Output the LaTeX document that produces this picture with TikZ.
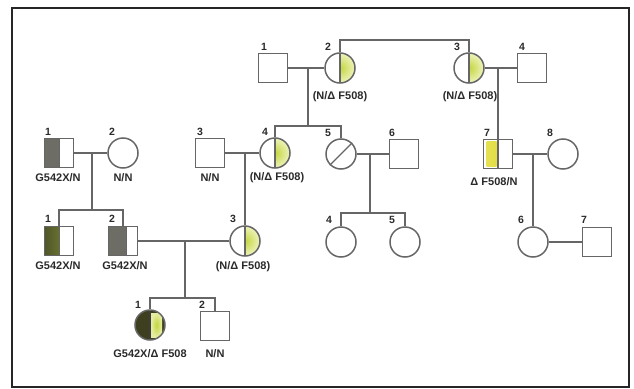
\documentclass[tikz,border=0pt]{standalone}
\usepackage{fontspec}
\setmainfont{Liberation Sans}
\begin{document}
\begin{tikzpicture}[x=1pt,y=-1pt]
\definecolor{linec}{HTML}{666666}
\definecolor{txtc}{HTML}{2A2A2A}
\definecolor{graf}{HTML}{6D6D66}
\definecolor{olive}{HTML}{50562A}
\definecolor{darkol}{HTML}{3E3F1F}
\definecolor{cfgreen}{HTML}{C4D640}
\definecolor{cflight}{HTML}{EEF3BC}
\definecolor{cfyel}{HTML}{E0DA2C}
\tikzset{
  ln/.style={draw=linec, line width=1.3pt},
  sq/.style={draw=linec, line width=1.5pt, rectangle, minimum size=29pt, inner sep=0pt, fill=white},
  ci/.style={draw=linec, line width=1.5pt, circle, minimum size=30pt, inner sep=0pt, fill=white},
  carR/.style={path picture={
      \shade[inner color=cfgreen, outer color=cflight]
        ([xshift=1pt]path picture bounding box.north) rectangle (path picture bounding box.south east);
      \draw[linec, line width=1.4pt] (path picture bounding box.north) -- (path picture bounding box.south);}},
  halfL/.style={path picture={
      \fill[#1] (path picture bounding box.north west) rectangle (path picture bounding box.south);
      \draw[linec, line width=1pt] (path picture bounding box.north) -- (path picture bounding box.south);}},
  graySq/.style={path picture={
      \fill[graf] (path picture bounding box.north west) rectangle ([xshift=3pt]path picture bounding box.south);
      \draw[linec, line width=1pt] ([xshift=3pt]path picture bounding box.north) -- ([xshift=3pt]path picture bounding box.south);}},
  olSq/.style={path picture={
      \shade[left color=olive, right color=olive!60!cfgreen] (path picture bounding box.north west) rectangle (path picture bounding box.south);
      \draw[linec, line width=1pt] (path picture bounding box.north) -- (path picture bounding box.south);}},
  yelSq/.style={path picture={
      \shade[left color=cfyel!80!white, right color=cfyel] ([xshift=3pt,yshift=-2pt]path picture bounding box.north west) rectangle ([xshift=-1.5pt,yshift=2pt]path picture bounding box.south);
      \draw[linec, line width=1.4pt] (path picture bounding box.north) -- (path picture bounding box.south);}},
  affCarr/.style={path picture={
      \fill[darkol] (path picture bounding box.north west) rectangle (path picture bounding box.south east);
      \shade[inner color=cfgreen, outer color=cflight!80!cfgreen]
        ([xshift=1pt,yshift=-3pt]path picture bounding box.north) rectangle ([xshift=-3pt,yshift=3pt]path picture bounding box.south east);
      \draw[linec!60!black, line width=1.4pt] (path picture bounding box.north) -- (path picture bounding box.south);}},
  num/.style={text=txtc, font=\bfseries\fontsize{10.5}{11}\selectfont, inner sep=0pt},
  gt/.style={text=txtc, font=\bfseries\fontsize{11}{12}\selectfont, inner sep=0pt},
  frame/.style={draw=black!85, line width=2pt}
}
\useasboundingbox (0,0) rectangle (634,388);
\draw[frame] (12,8) rectangle (629,387);

% Generation I
\node[sq] (I1) at (273,68) {};
\node[ci, carR] (I2) at (340,68) {};
\node[ci, carR] (I3) at (469,68) {};
\node[sq] (I4) at (532,68) {};

% Generation II
\node[sq, halfL=graf] (L1) at (59,153) {};
\node[ci] (L2) at (123,153) {};
\node[sq] (A3) at (210,153) {};
\node[ci, carR] (A4) at (275,153) {};
\node[ci] (A5) at (341,154) {};
\node[sq] (A6) at (404,154) {};
\node[sq, yelSq] (A7) at (498,154) {};
\node[ci] (A8) at (563,154) {};
\draw[linec, line width=1.2pt] (A5.south west) -- (A5.north east);

% Generation III
\node[sq, olSq] (B1) at (59,241) {};
\node[sq, graySq] (B2) at (123,241) {};
\node[ci, carR] (B3) at (245,241) {};
\node[ci] (B4) at (341,242) {};
\node[ci] (B5) at (405,242) {};
\node[ci] (B6) at (533,242) {};
\node[sq] (B7) at (597,242) {};

% Generation IV
\node[ci, affCarr] (C1) at (150,325) {};
\node[sq] (C2) at (215,326) {};

% connectors
\coordinate (top) at (405,40);
\draw[ln] (I2.north) |- (top) -| (I3.north);
\coordinate (m1) at (308,68);
\coordinate (s1) at (308,126);
\draw[ln] (I1.east) -- (I2.west);
\draw[ln] (m1) -- (s1);
\draw[ln] (A4.north) |- (s1) -| (A5.north);
\coordinate (m2) at (498,68);
\draw[ln] (I3.east) -- (I4.west);
\draw[ln] (m2) -- (A7.north);

\coordinate (m3) at (92,153);
\coordinate (s3) at (92,210);
\draw[ln] (L1.east) -- (L2.west);
\draw[ln] (m3) -- (s3);
\draw[ln] (B1.north) |- (s3) -| (B2.north);

\coordinate (m4) at (245,153);
\draw[ln] (A3.east) -- (A4.west);
\draw[ln] (m4) -- (B3.north);

\coordinate (m5) at (370,154);
\coordinate (s5) at (370,213);
\draw[ln] (A5.east) -- (A6.west);
\draw[ln] (m5) -- (s5);
\draw[ln] (B4.north) |- (s5) -| (B5.north);

\coordinate (m6) at (533,154);
\draw[ln] (A7.east) -- (A8.west);
\draw[ln] (m6) -- (B6.north);

\coordinate (m7) at (185,241);
\coordinate (s7) at (185,298);
\draw[ln] (B2.east) -- (B3.west);
\draw[ln] (m7) -- (s7);
\draw[ln] (C1.north) |- (s7) -| (C2.north);

\draw[ln] (B6.east) -- (B7.west);

% numbers
\node[num] (nI1) at (264,47) {1};
\node[num] (nI2) at (328,47) {2};
\node[num] (nI3) at (457,47) {3};
\node[num] (nI4) at (522,47) {4};
\node[num] (nL1) at (48,132) {1};
\node[num] (nL2) at (112,132) {2};
\node[num] (nA3) at (200,132) {3};
\node[num] (nA4) at (265,132) {4};
\node[num] (nA5) at (328,133) {5};
\node[num] (nA6) at (392,133) {6};
\node[num] (nA7) at (487,133) {7};
\node[num] (nA8) at (550,133) {8};
\node[num] (nB1) at (48,219) {1};
\node[num] (nB2) at (112,219) {2};
\node[num] (nB3) at (233,219) {3};
\node[num] (nB4) at (329,220) {4};
\node[num] (nB5) at (392,220) {5};
\node[num] (nB6) at (521,220) {6};
\node[num] (nB7) at (584,220) {7};
\node[num] (nC1) at (138,305) {1};
\node[num] (nC2) at (202,305) {2};

% genotypes
\node[gt] (gI2) at (340,97) {(N/Δ F508)};
\node[gt] (gI3) at (470,97) {(N/Δ F508)};
\node[gt] (gL1) at (58,178) {G542X/N};
\node[gt] (gL2) at (123,178) {N/N};
\node[gt] (gA3) at (210,178) {N/N};
\node[gt] (gA4) at (277,178) {(N/Δ F508)};
\node[gt] (gA7) at (494,182) {Δ F508/N};
\node[gt] (gB1) at (58,266) {G542X/N};
\node[gt] (gB2) at (125,266) {G542X/N};
\node[gt] (gB3) at (243,267) {(N/Δ F508)};
\node[gt] (gC1) at (150,354) {G542X/Δ F508};
\node[gt] (gC2) at (215,354) {N/N};
\end{tikzpicture}
\end{document}
